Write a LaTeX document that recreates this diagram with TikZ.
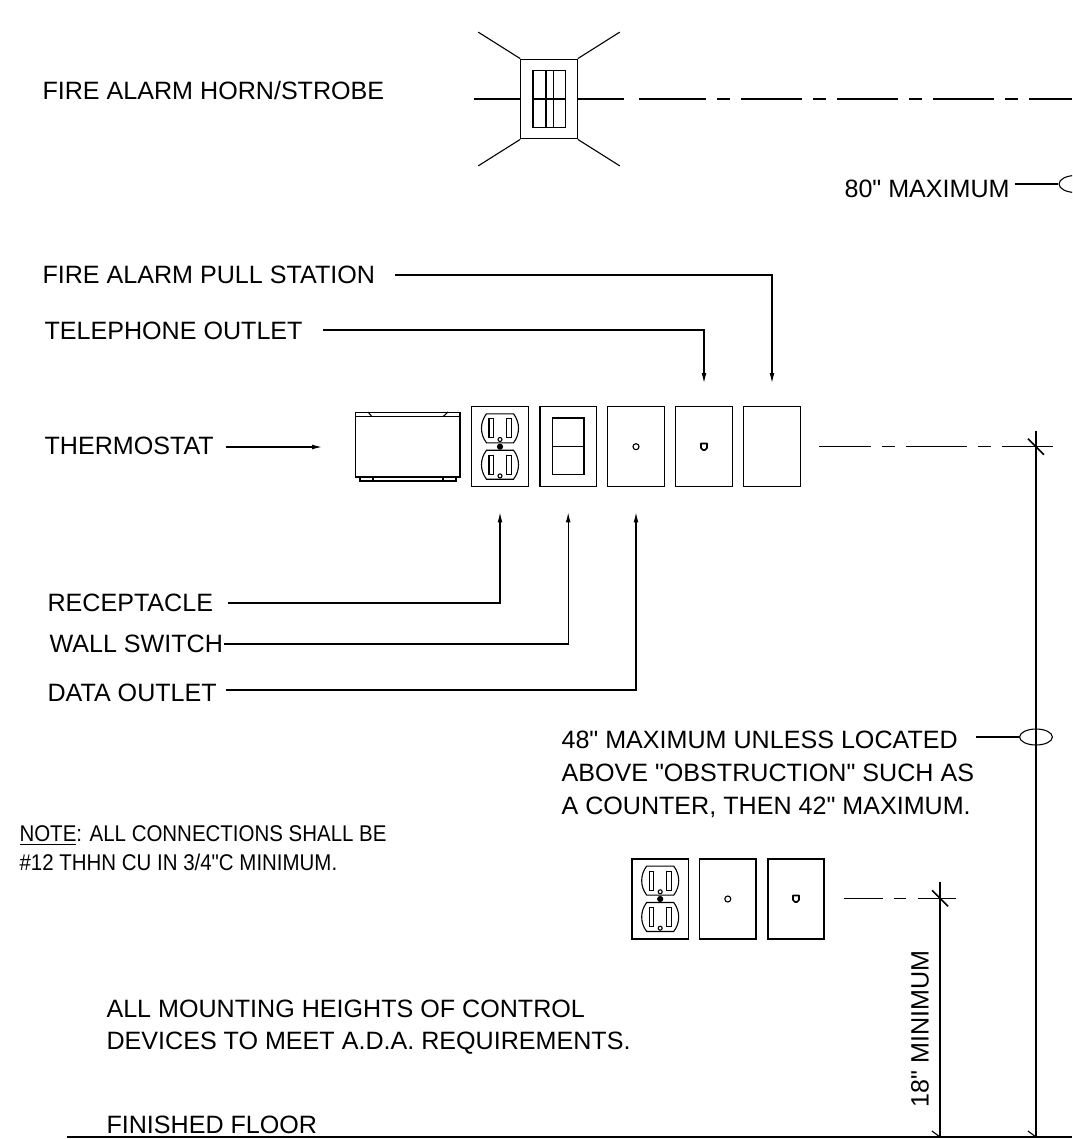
\documentclass[tikz,border=0pt]{standalone}
\usepackage{fontspec}
\newfontfamily\drawingfont{Liberation Sans}
\newfontfamily\notefont[FakeStretch=0.9]{Liberation Sans}
\usetikzlibrary{arrows.meta, positioning, calc, shapes.geometric}

\tikzset{
	receptacle/.pic={
		\foreach \y in {-18.4,18} {
			\begin{scope}[shift={(0,\y)}]
				\draw[line width=0.55pt] (-13.5,-14.5) -- (13.5,-14.5) .. controls (17,-10) and (18.5,-5) .. (18.5,0) .. controls (18.5,5) and (17,10) .. (13.5,14.5) -- (-13.5,14.5) .. controls (-17,10) and (-18.5,5) .. (-18.5,0) .. controls (-18.5,-5) and (-17,-10) .. cycle;
				\draw[line width=0.55pt] (-11,-9.5) rectangle (-6.7,9.5);
				\draw[line width=0.55pt] (6.7,-9.5) rectangle (11.5,9.5);
			\end{scope}
		};
		\draw[line width=0.55pt] (0,-7.2) circle (2);
		\draw[line width=0.55pt] (0,29.2) circle (2);
		\draw[line width=0.55pt, fill=black] (0,0) circle (2.5);
	}
}

\begin{document}
\begin{tikzpicture}[x=0.5pt, y=-0.5pt, font=\drawingfont\fontsize{12.55}{14}\selectfont, line width=0.55pt]
	\tikzstyle{plate} = [rectangle, draw=black, line width=0.6pt, minimum width=28.2pt, minimum height=40pt, inner sep=0]
	\tikzstyle{text_label} = [inner sep=0, anchor=west]
	\tikzstyle{leader} = [-{Latex[length=5pt,width=2.4pt]}, line width=0.55pt]
	\tikzstyle{plain_line} = [line width=0.55pt]
	\tikzstyle{hidden_line} = [line width=0.65pt]
	\tikzstyle{ring} = [ellipse, draw, line width=0.55pt, inner sep=0]
	\tikzstyle{jack} = [circle, draw, line width=0.55pt, minimum size=3pt, inner sep=0]

	\useasboundingbox (0,0) rectangle (1072,1139);
	\clip (0,0) rectangle (1072,1139);

	% Horn/strobe
	\node[text_label] (horn_label) at (42,91) {FIRE ALARM HORN/STROBE};
	\node[plate, minimum height=39.8pt] (strobe) at (549,99) {};
	\node[rectangle, draw, line width=0.6pt, minimum width=16.1pt, minimum height=28.3pt, inner sep=0] (lens) at (549,99) {};
	\draw[plain_line] (546,70.7) -- (546,127.3) (553.3,70.7) -- (553.3,127.3);
	\draw[plain_line] (lens.west) -- (lens.east);
	\draw[plain_line] (strobe.north west) -- +(-42,-26.5);
	\draw[plain_line] (strobe.north east) -- +(42,-26.5);
	\draw[plain_line] (strobe.south west) -- +(-42,26.5);
	\draw[plain_line] (strobe.south east) -- +(42,26.5);
	\draw[plain_line] (strobe.west) -- +(-46,0);
	\draw[plain_line] (strobe.east) -- +(46,0);

	% Dashed height lines
	\foreach \a/\b in {639/705.7,717/730,741/802,813/826,837/897.7,909/922,933/994,1005/1018,1029/1072} {
		\draw[hidden_line] (\a,99) -- (\b,99);
	};
	\foreach \a/\b in {819.3/870.7,881.7/894.7,905.7/966.7,977.7/990.7,1001.7/1052.7} {
		\draw[hidden_line] (\a,446.7) -- (\b,446.7);
	};
	\foreach \a/\b in {843.5/882.5,893.5/906,918/956} {
		\draw[hidden_line] (\a,898.3) -- (\b,898.3);
	};

	% 80 inch callout
	\node[text_label] (max_top) at (844,189) {80" MAXIMUM};
	\node[ring, minimum width=16.5pt, minimum height=8.5pt] (ring_top) at (1075.5,184) {};
	\draw[plain_line] (1015,184) -- (ring_top.west);

	% Leaders above the plates
	\node[text_label] (pull_label) at (42,275) {FIRE ALARM PULL STATION};
	\node[text_label] (phone_label) at (44,331) {TELEPHONE OUTLET};
	\node[text_label] (thermo_label) at (44,446) {THERMOSTAT};

	% Upper row of plates
	\node[rectangle, draw, line width=0.6pt, minimum width=52.2pt, minimum height=32.2pt, inner sep=0] (thermostat) at (407.7,444.8) {};
	\draw[plain_line] (thermostat.west |- 0,416.7) -- (thermostat.east |- 0,416.7);
	\draw[plain_line] (368,412) -- (372,416.7) (448,412) -- (443,416.7);
	\draw[plain_line] (360,477) -- (360,481) -- (456,481) -- (456,477);
	\draw[plain_line] (373,477) -- (373,481) (443,477) -- (443,481);

	\node[plate] (outlet_up) at (500,446.7) {};
	\pic at (outlet_up.center) {receptacle};
	\node[plate] (switch_up) at (568.2,446.7) {};
	\draw[plain_line] (552.5,418) rectangle (584,474.5);
	\draw[plain_line] (552.5,446.7) -- (584,446.7);
	\node[plate] (data_up) at (636,446.7) {};
	\node[jack] (jack_data_up) at (data_up.center) {};
	\node[plate] (phone_up) at (704,446.7) {};
	\draw[line width=0.8pt, line join=round] (701,443.5) -- (707,443.5) -- (707,448) -- (705,450) -- (703,450) -- (701,448) -- cycle;
	\node[plate] (pull_up) at (772,446.7) {};

	\coordinate (pull_start) at (395,275);
	\coordinate (phone_start) at (323,330);
	\coordinate (thermo_start) at (226,447);
	\draw[leader] (pull_start) -| ([yshift=11.5pt]pull_up.north);
	\draw[leader] (phone_start) -| ([yshift=11.5pt]phone_up.north);
	\draw[leader] (thermo_start) -- (322,447);

	% Leaders below the plates
	\node[text_label] (recep_label) at (47,603) {RECEPTACLE};
	\node[text_label] (switch_label) at (49,644) {WALL SWITCH};
	\node[text_label] (data_label) at (47,693) {DATA OUTLET};
	\coordinate (recep_tip) at ([yshift=-12.5pt]outlet_up.south);
	\coordinate (switch_tip) at ([yshift=-12.5pt]switch_up.south);
	\coordinate (data_tip) at ([yshift=-12.5pt]data_up.south);
	\draw[leader] (228,603) -| (recep_tip);
	\draw[leader] (224,644) -| (switch_tip);
	\draw[leader] (226,690) -| (data_tip);

	% 48 inch callout
	\node[text_label, align=left] (max_mid) at (561,774) {48" MAXIMUM UNLESS LOCATED\\[2.5pt]ABOVE "OBSTRUCTION" SUCH AS\\[2.5pt]A COUNTER, THEN 42" MAXIMUM.};
	\node[ring, minimum width=16.4pt, minimum height=8pt] (ring_mid) at (1036,737) {};
	\coordinate (ring_start) at (976,737);
	\draw[plain_line] (ring_start) -- (ring_mid.west);

	% Note
	\node[text_label, align=left, font=\notefont\fontsize{11.37}{14}\selectfont] (note) at (19,848) {\underline{NOTE}: ALL CONNECTIONS SHALL BE\\[0.5pt]\#12 THHN CU IN 3/4"C MINIMUM.};

	% Lower row of plates
	\node[plate] (outlet_low) at (660.2,899) {};
	\pic at (outlet_low.center) {receptacle};
	\node[plate] (data_low) at (727.8,899) {};
	\node[jack] (jack_data_low) at (data_low.center) {};
	\node[plate, line width=0.9pt] (phone_low) at (796,899) {};
	\draw[line width=0.8pt, line join=round] (793,895.5) -- (799,895.5) -- (799,900) -- (797,902) -- (795,902) -- (793,900) -- cycle;

	% Mounting note and floor
	\node[text_label, align=left] (ada) at (106,1027) {ALL MOUNTING HEIGHTS OF CONTROL\\[2.2pt]DEVICES TO MEET A.D.A. REQUIREMENTS.};
	\node[text_label] (floor_label) at (106,1125) {FINISHED FLOOR};
	\coordinate (floor_left) at (67,1137);
	\coordinate (floor_right) at (1072,1137);
	\draw[line width=0.8pt] (floor_left) -- (floor_right);

	% Dimension lines
	\coordinate (dim_low) at (940,898.3);
	\coordinate (dim_up) at (1036,446.7);
	\draw[line width=0.7pt] (dim_low)+(0,-16) -- (dim_low |- floor_left);
	\draw[line width=0.8pt] (dim_up)+(0,-16) -- (dim_up |- floor_left);
	\foreach \p in {dim_low, dim_up} {
		\draw[line width=0.8pt] ($(\p)+(-8,-8)$) -- ($(\p)+(8,8)$);
	};
	\draw[plain_line] ($(dim_low |- floor_left)+(-8,-6)$) -- (dim_low |- floor_left);
	\draw[plain_line] ($(dim_up |- floor_left)+(-8,-6)$) -- (dim_up |- floor_left);
	\node[rotate=90, inner sep=0, anchor=west] (min_low) at (920,1108) {18" MINIMUM};
\end{tikzpicture}
\end{document}
